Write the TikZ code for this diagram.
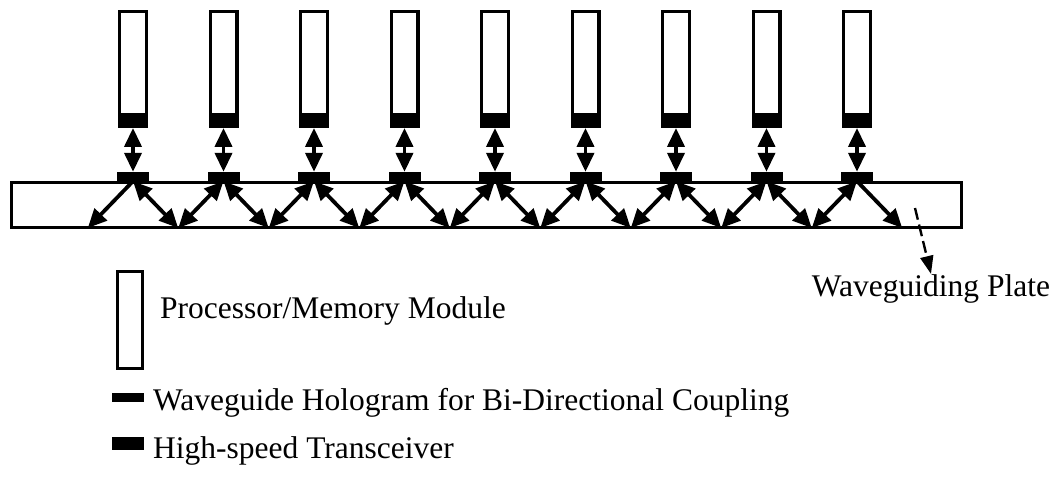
\documentclass[tikz,border=0pt]{standalone}
\usepackage{fontspec}
\setmainfont{Liberation Serif}
\usetikzlibrary{arrows.meta}
\begin{document}
\begin{tikzpicture}[x=1pt,y=-1pt,
  module/.style={draw, line width=3.2pt, minimum width=26.8pt, minimum height=113.8pt, inner sep=0pt},
  trx/.style={fill=black, draw=none, minimum width=30pt, minimum height=14.5pt, inner sep=0pt},
  holo/.style={fill=black, draw=none, minimum width=32pt, minimum height=9pt, inner sep=0pt},
  plate/.style={draw, line width=3pt, minimum width=950pt, minimum height=45pt, inner sep=0pt},
  bi/.style={line width=3.8pt, {Triangle[length=19pt,width=17pt]}-{Triangle[length=19pt,width=17pt]}},
  uni/.style={line width=3.8pt, -{Triangle[length=19pt,width=17pt]}},
  leader/.style={line width=2.4pt, dash pattern=on 12pt off 5pt, -{Triangle[length=18pt,width=13pt]}},
  lbl/.style={inner sep=0pt, font=\fontsize{31.5}{37}\selectfont}
]
\useasboundingbox (0,0) rectangle (1052,482);

% waveguiding plate
\node[plate] (plate) at (486.5,205) {};

% modules, transceivers, holograms
\foreach \i in {1,...,9} {
  \pgfmathsetmacro{\cx}{133+90.5*(\i-1)}
  \node[module] (m\i) at (\cx,68.5) {};
  \node[trx] (t\i) at (\cx,120.5) {};
  \node[holo] (h\i) at (\cx,176.5) {};
  \draw[bi] (t\i.south) -- (h\i.north);
}

% reflection points on the plate bottom
\foreach \k in {0,...,9} {
  \pgfmathsetmacro{\bx}{133-45.25+90.5*\k}
  \coordinate (b\k) at (\bx,228);
}

% diagonal light paths
\draw[uni] (h1.south) -- (b0);
\draw[bi] (h1.south) -- (b1);
\foreach \i in {2,...,8} {
  \pgfmathtruncatemacro{\j}{\i-1}
  \draw[bi] (h\i.south) -- (b\j);
  \draw[bi] (h\i.south) -- (b\i);
}
\draw[bi] (h9.south) -- (b8);
\draw[uni] (h9.south) -- (b9);

% plate label
\node[lbl, anchor=base] (wgp) at (931,296) {Waveguiding Plate};
\coordinate (lead) at (915,208);
\draw[leader] (lead) -- (wgp.north);

% legend
\node[module, minimum width=24.8pt, minimum height=96.8pt] (lm) at (130,320) {};
\node[lbl, anchor=base west] (lmt) at (160,318) {Processor/Memory Module};
\node[holo] (lh) at (128,397.5) {};
\node[lbl, anchor=base west] (lht) at (153,410) {Waveguide Hologram for Bi-Directional Coupling};
\node[trx, minimum width=32pt, minimum height=13pt] (lt) at (128,443.5) {};
\node[lbl, anchor=base west] (ltt) at (153,458) {High-speed Transceiver};
\end{tikzpicture}
\end{document}
